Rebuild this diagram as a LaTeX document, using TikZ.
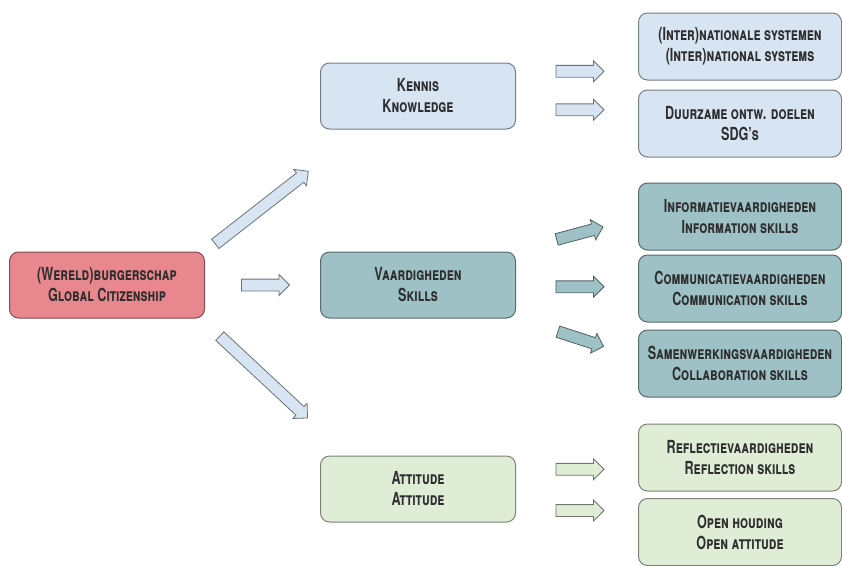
\documentclass[tikz,border=0pt]{standalone}
\usepackage{fontspec}
\setmainfont{TeX Gyre Heros}[FakeStretch=0.7]
\usetikzlibrary{calc,shapes.arrows}
\definecolor{roze}{HTML}{E8878D}
\definecolor{lichtblauw}{HTML}{D7E5F3}
\definecolor{blauwgroen}{HTML}{9EC1C5}
\definecolor{lichtgroen}{HTML}{DFEDD7}
\definecolor{tekst}{HTML}{2E2E2E}
\tikzset{
  rbox/.style={fill=#1, draw=#1!55!black, line width=1pt, rounded corners=9pt,
    minimum width=195pt, minimum height=66pt, align=center, text=tekst,
    font=\fontsize{18}{21}\selectfont\bfseries\scshape},
  sbox/.style={rbox=#1, minimum width=203pt, minimum height=67pt},
  pijl/.style={single arrow, fill=#1, draw=#1!50!black, line width=0.8pt,
    inner sep=0pt, inner ysep=5.5pt, text width=0pt, text height=0pt, text depth=0pt,
    minimum height=48pt, single arrow head extend=4.5pt}
}

\begin{document}
\begin{tikzpicture}[x=1pt,y=-1pt]
\useasboundingbox (0,0) rectangle (842,565);
% linker kolom
\node[rbox=roze] (burger) at (107,285) {(Wereld)burgerschap\\Global Citizenship};
% midden kolom
\node[rbox=lichtblauw] (kennis) at (418,96) {Kennis\\Knowledge};
\node[rbox=blauwgroen] (vaard) at (418,285) {Vaardigheden\\Skills};
\node[rbox=lichtgroen] (att) at (418,489) {Attitude\\Attitude};
% rechter kolom
\node[sbox=lichtblauw] (nat) at (740,46.5) {(Inter)nationale systemen\\(Inter)national systems};
\node[sbox=lichtblauw] (sdg) at (740,123.5) {Duurzame ontw. doelen\\SDG's};
\node[sbox=blauwgroen] (info) at (740,216.5) {Informatievaardigheden\\Information skills};
\node[sbox=blauwgroen] (comm) at (740,288.5) {Communicatievaardigheden\\Communication skills};
\node[sbox=blauwgroen] (samen) at (740,363.5) {Samenwerkingsvaardigheden\\Collaboration skills};
\node[sbox=lichtgroen] (refl) at (740,457.5) {Reflectievaardigheden\\Reflection skills};
\node[sbox=lichtgroen] (open) at (740,532) {Open houding\\Open attitude};
% pijlen
\node[pijl=lichtblauw, rotate=38, minimum height=118pt, xshift=-14pt, yshift=-13pt] at ($(burger.north east)!.5!(kennis.south west)$) {};
\node[pijl=lichtblauw] at ($(burger.east)!.5!(vaard.west)$) {};
\node[pijl=lichtblauw, rotate=-43, minimum height=120pt, yshift=7pt] at ($(burger.south east)!.45!(att.north west)$) {};
\node[pijl=lichtblauw] at ($(kennis.east)!.5!(nat.west)$) {};
\node[pijl=lichtblauw] at ($(kennis.east)!.5!(sdg.west)$) {};
\node[pijl=blauwgroen, rotate=15] at ($(vaard.north east)!.5!(info.west)$) {};
\node[pijl=blauwgroen] at ($(vaard.east)!.5!(comm.west)$) {};
\node[pijl=blauwgroen, rotate=-18, yshift=3pt] at ($(vaard.south east)!.5!(samen.west)$) {};
\node[pijl=lichtgroen, yshift=4pt] at ($(att.east)!.5!(refl.west)$) {};
\node[pijl=lichtgroen] at ($(att.east)!.5!(open.west)$) {};
\end{tikzpicture}
\end{document}
